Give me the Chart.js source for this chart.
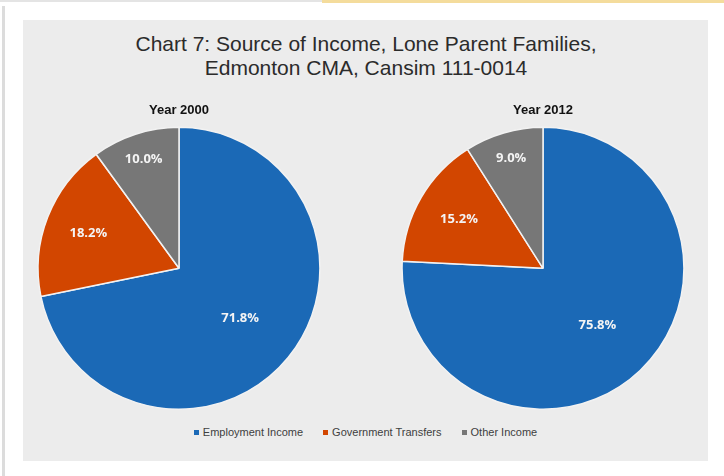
<!DOCTYPE html>
<html>
<head>
<meta charset="utf-8">
<script src="https://cdn.jsdelivr.net/npm/chart.js@4.4.1/dist/chart.umd.min.js"></script>
<style>
    body { margin: 0; width: 724px; height: 476px; background: #fff; position: relative; overflow: hidden; }
    .topline { position: absolute; left: 0; top: 0; width: 322px; height: 2px; background: #e4e4e4; }
    .topgold { position: absolute; left: 322px; top: 0; width: 402px; height: 3px; background: #f4dc9c; }
    .sideline { position: absolute; left: 2px; top: 6px; width: 3px; height: 470px; background: #dcdcdc; }
    .panel { position: absolute; left: 23px; top: 20px; width: 685px; height: 441px; background: #ececec; }
    .title {
        position: absolute; left: 23px; top: 32px; width: 686px; text-align: center;
        font-family: "Liberation Sans", Arial, sans-serif; font-size: 21px; line-height: 24px;
        color: #2b2b2b;
    }
    canvas { position: absolute; }
    #chart2000 { left: 29px; top: 100px; }
    #chart2012 { left: 393px; top: 100px; }
    .legend {
        position: absolute; left: 23px; top: 426px; width: 685px; display: flex; justify-content: center;
        font-family: "Liberation Sans", sans-serif; font-size: 11px; color: #404040;
    }
    .legend span { display: flex; align-items: center; margin: 0 10px; }
    .legend i { display: inline-block; width: 5px; height: 5px; margin-right: 4px; }
</style>
</head>
<body>
<div class="topline"></div>
<div class="topgold"></div>
<div class="sideline"></div>
<div class="panel"></div>
<div class="title">Chart 7: Source of Income, Lone Parent Families,<br>Edmonton CMA, Cansim 111-0014</div>
<canvas id="chart2000" width="300" height="310"></canvas>
<canvas id="chart2012" width="300" height="310"></canvas>
<div class="legend" id="legend"></div>
<script>
const categories = ['Employment Income', 'Government Transfers', 'Other Income'];
const share2000 = [71.8, 18.2, 10.0];
const share2012 = [75.8, 15.2, 9.0];

const sliceColors = ['#1b69b6', '#d24600', '#777777'];
// how far out each label sits, as a fraction of the radius
const labelReach = [0.56, 0.69, 0.81];

const pctLabels = {
    id: 'pctLabels',
    afterDatasetsDraw(chart) {
        const ctx = chart.ctx;
        const meta = chart.getDatasetMeta(0);
        const values = chart.data.datasets[0].data;
        ctx.save();
        ctx.font = 'bold 13px "Open Sans", sans-serif';
        ctx.fillStyle = '#f4f4f4';
        ctx.textAlign = 'center';
        ctx.textBaseline = 'middle';
        meta.data.forEach((arc, i) => {
            const mid = (arc.startAngle + arc.endAngle) / 2;
            const r = arc.outerRadius * labelReach[i];
            ctx.fillText(values[i].toFixed(1) + '%', arc.x + Math.cos(mid) * r, arc.y + Math.sin(mid) * r);
        });
        ctx.restore();
    }
};

function makePie(id, title, values) {
    new Chart(document.getElementById(id), {
        type: 'pie',
        data: {
            labels: categories,
            datasets: [{
                data: values,
                backgroundColor: sliceColors,
                borderColor: '#f2f2f2',
                borderWidth: 1.5
            }]
        },
        options: {
            responsive: false,
            animation: false,
            layout: { padding: 0 },
            plugins: {
                legend: { display: false },
                tooltip: { enabled: false },
                title: {
                    display: true,
                    text: title,
                    color: '#111',
                    font: { family: '"Liberation Sans", sans-serif', size: 13, weight: 'bold' },
                    padding: { top: 3, bottom: 8 }
                }
            }
        },
        plugins: [pctLabels]
    });
}

makePie('chart2000', 'Year 2000', share2000);
makePie('chart2012', 'Year 2012', share2012);

const legend = document.getElementById('legend');
categories.forEach((name, i) => {
    const item = document.createElement('span');
    item.innerHTML = '<i style="background:' + sliceColors[i] + '"></i>' + name;
    legend.appendChild(item);
});
</script>
</body>
</html>
